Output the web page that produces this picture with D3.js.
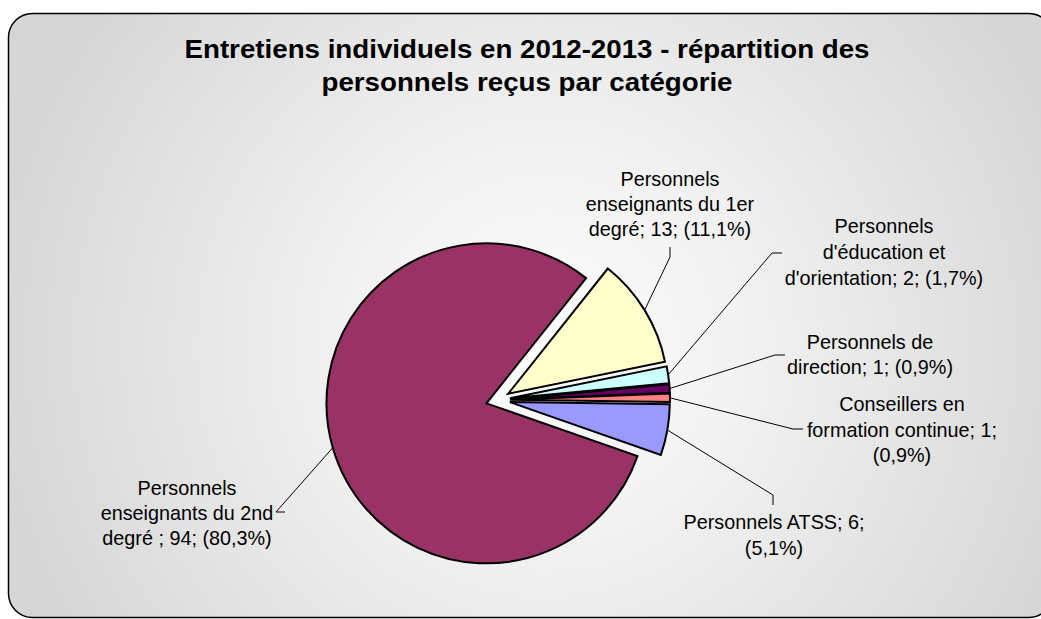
<!DOCTYPE html>
<html>
<head>
<meta charset="utf-8">
<script src="https://cdn.jsdelivr.net/npm/d3@7"></script>
<style>
  html, body { margin: 0; padding: 0; background: #fff; }
  svg { display: block; }
  text { font-family: "Liberation Sans", Arial, sans-serif; fill: #000; }
</style>
</head>
<body>
<svg id="chart" width="1041" height="619"></svg>
<script>
// ---- Data ----
const categories = [
  "Personnels enseignants du 1er degré",
  "Personnels d'éducation et d'orientation",
  "Personnels de direction",
  "Conseillers en formation continue",
  "Personnels ATSS",
  "Personnels enseignants du 2nd degré"
];
const values = [13, 2, 1, 1, 6, 94];
const percentLabels = ["11,1%", "1,7%", "0,9%", "0,9%", "5,1%", "80,3%"];
const labelLines = [
  ["Personnels", "enseignants du 1er", "degré; 13; (11,1%)"],
  ["Personnels", "d'éducation et", "d'orientation; 2; (1,7%)"],
  ["Personnels de", "direction; 1; (0,9%)"],
  ["Conseillers en", "formation continue; 1;", "(0,9%)"],
  ["Personnels ATSS; 6;", "(5,1%)"],
  ["Personnels", "enseignants du 2nd", "degré ; 94; (80,3%)"]
];
const colors = ["#FFFFCC", "#CCFFFF", "#660066", "#FF8080", "#9999FF", "#993366"];
const titleLines = ["Entretiens individuels en 2012-2013 - répartition des",
                    "personnels reçus par catégorie"];

// ---- Layout ----
const W = 1041, H = 619;
const cx = 498, cy = 400, R = 160, explode = 12;
const startDeg = 38.5;
// label placement: center x, first baseline, line step; leader elbow points
const labelLayout = [
  { x: 670, y: 186, step: 25, leader: [[670, 247], [670, 257]] },
  { x: 884, y: 233, step: 26, leader: [[782, 253], [772, 253]] },
  { x: 870, y: 349, step: 24.5, leader: [[785, 355], [775, 355]] },
  { x: 902, y: 411, step: 25.5, leader: [[803, 429], [793, 429]] },
  { x: 774, y: 529, step: 26, leader: [[773, 505], [773, 495]] },
  { x: 187, y: 495, step: 25, leader: [[285, 512], [276, 512]] }
];

const svg = d3.select("#chart");
const defs = svg.append("defs");
const grad = defs.append("radialGradient").attr("id", "bg")
  .attr("gradientUnits", "userSpaceOnUse")
  .attr("cx", 545).attr("cy", 345).attr("r", 560);
grad.append("stop").attr("offset", "0").attr("stop-color", "#fcfcfc");
grad.append("stop").attr("offset", "0.35").attr("stop-color", "#f2f2f2");
grad.append("stop").attr("offset", "1").attr("stop-color", "#d6d6d6");

svg.append("rect")
  .attr("x", 8.5).attr("y", 13.5).attr("width", 1044).attr("height", 604)
  .attr("rx", 24).attr("ry", 24)
  .attr("fill", "url(#bg)").attr("stroke", "#000").attr("stroke-width", 1.5);

// Title
titleLines.forEach((t, i) => {
  svg.append("g").attr("transform", `translate(527,${58 + i * 33}) scale(1.1,1)`)
    .append("text").attr("text-anchor", "middle")
    .attr("font-size", 25.2).attr("font-weight", "bold").text(t);
});

// Pie
const pie = d3.pie().sort(null).value(d => d)
  .startAngle(startDeg * Math.PI / 180)
  .endAngle(startDeg * Math.PI / 180 + 2 * Math.PI);
const arcs = pie(values);
const arc = d3.arc().innerRadius(0).outerRadius(R);

const offset = d => {
  const a = (d.startAngle + d.endAngle) / 2;
  return [explode * Math.sin(a), -explode * Math.cos(a)];
};
const outerMid = d => {
  const a = (d.startAngle + d.endAngle) / 2;
  const o = offset(d);
  return [cx + o[0] + R * Math.sin(a), cy + o[1] - R * Math.cos(a)];
};

// Leader lines
const line = d3.line();
arcs.forEach((d, i) => {
  const L = labelLayout[i];
  const pts = [...L.leader, outerMid(d)];
  svg.append("path").attr("d", line(pts))
    .attr("fill", "none").attr("stroke", "#000").attr("stroke-width", 1);
});

// Slices
svg.append("g").selectAll("path").data(arcs).join("path")
  .attr("transform", d => { const o = offset(d); return `translate(${cx + o[0]},${cy + o[1]})`; })
  .attr("d", arc)
  .attr("fill", (d, i) => colors[i])
  .attr("stroke", "#000").attr("stroke-width", 2).attr("stroke-linejoin", "miter");

// Labels
labelLines.forEach((lines, i) => {
  const L = labelLayout[i];
  const t = svg.append("text").attr("text-anchor", "middle").attr("font-size", 19.8);
  lines.forEach((ln, j) => {
    t.append("tspan").attr("x", L.x).attr("y", L.y + j * L.step).text(ln);
  });
});
</script>
</body>
</html>
